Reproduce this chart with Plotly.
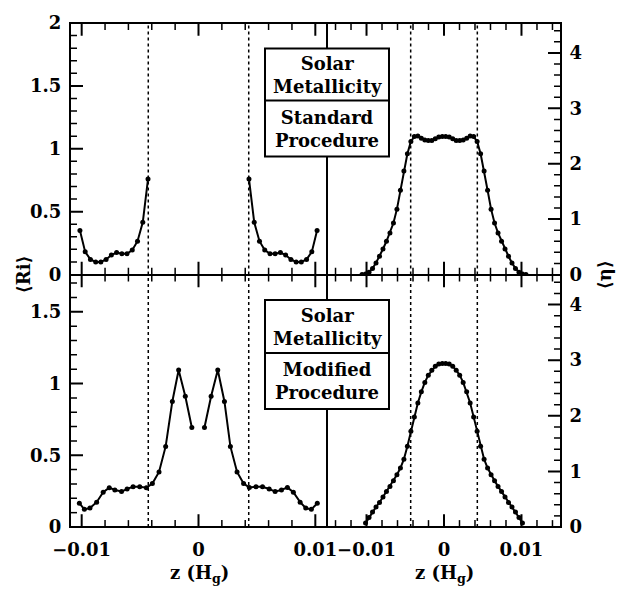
import plotly.graph_objects as go

# ---------------- data ----------------
z_ri_std_left = [-0.01015, -0.00970, -0.00925, -0.00880, -0.00836, -0.00791, -0.00746,
                 -0.00701, -0.00656, -0.00612, -0.00567, -0.00522, -0.00477, -0.00432]
ri_std_left = [0.35, 0.18, 0.12, 0.10, 0.10, 0.12, 0.155, 0.175, 0.165, 0.165, 0.195, 0.265, 0.415, 0.76]
z_ri_std_right = [0.00432, 0.00477, 0.00522, 0.00567, 0.00612, 0.00656, 0.00701,
                  0.00746, 0.00791, 0.00836, 0.00880, 0.00925, 0.00970, 0.01015]
ri_std_right = [0.76, 0.415, 0.265, 0.195, 0.165, 0.165, 0.175, 0.155, 0.12, 0.10, 0.10, 0.12, 0.18, 0.35]

z_ri_mod_left = [-0.0102, -0.00977, -0.00929, -0.00872, -0.00816, -0.00764, -0.00716, -0.00659,
                 -0.00611, -0.0056, -0.00503, -0.00446, -0.00395, -0.00338, -0.00281, -0.00224,
                 -0.0017, -0.00113, -0.00057]
ri_mod_left = [0.166, 0.123, 0.132, 0.173, 0.242, 0.274, 0.258, 0.247, 0.265, 0.281, 0.281,
               0.274, 0.303, 0.384, 0.562, 0.875, 1.094, 0.911, 0.694]
z_ri_mod_right = [0.00051, 0.00108, 0.00165, 0.00222, 0.00273, 0.0033, 0.00386, 0.00435, 0.00492,
                  0.00548, 0.00605, 0.00656, 0.0071, 0.00761, 0.00812, 0.0087, 0.00918, 0.00966,
                  0.01017]
ri_mod_right = [0.694, 0.911, 1.094, 0.875, 0.562, 0.384, 0.303, 0.276, 0.281, 0.281, 0.265,
                0.247, 0.258, 0.276, 0.242, 0.173, 0.132, 0.123, 0.166]

z_eta_std = [-0.010575, -0.010125, -0.009675, -0.009225, -0.008775, -0.008325, -0.007875, -0.007425,
             -0.006975, -0.006525, -0.006075, -0.005625, -0.005175, -0.004725, -0.004275, -0.003825,
             -0.003375, -0.002925, -0.002475, -0.002025, -0.001575, -0.001125, -0.000675, -0.000225,
             0.000225, 0.000675, 0.001125, 0.001575, 0.002025, 0.002475, 0.002925, 0.003375,
             0.003825, 0.004275, 0.004725, 0.005175, 0.005625, 0.006075, 0.006525, 0.006975,
             0.007425, 0.007875, 0.008325, 0.008775, 0.009225, 0.009675, 0.010125, 0.010575]
eta_std = [0.0, 0.01, 0.04, 0.11, 0.21, 0.33, 0.46, 0.60, 0.75, 0.93, 1.18, 1.52, 1.87, 2.18, 2.40,
           2.49, 2.50, 2.46, 2.43, 2.42, 2.42, 2.45, 2.48, 2.49,
           2.49, 2.48, 2.45, 2.42, 2.42, 2.43, 2.46, 2.50, 2.49,
           2.40, 2.18, 1.87, 1.52, 1.18, 0.93, 0.75, 0.60, 0.46, 0.33, 0.21, 0.11, 0.04, 0.01, 0.0]

z_eta_mod = [-0.010125, -0.009675, -0.009225, -0.008775, -0.008325, -0.007875, -0.007425,
             -0.006975, -0.006525, -0.006075, -0.005625, -0.005175, -0.004725, -0.004275, -0.003825,
             -0.003375, -0.002925, -0.002475, -0.002025, -0.001575, -0.001125, -0.000675, -0.000225,
             0.000225, 0.000675, 0.001125, 0.001575, 0.002025, 0.002475, 0.002925, 0.003375,
             0.003825, 0.004275, 0.004725, 0.005175, 0.005625, 0.006075, 0.006525, 0.006975,
             0.007425, 0.007875, 0.008325, 0.008775, 0.009225, 0.009675, 0.010125]
eta_mod = [0.07, 0.17, 0.27, 0.36, 0.44, 0.54, 0.64, 0.73, 0.83, 0.94, 1.06, 1.22, 1.45, 1.72,
           1.98, 2.23, 2.43, 2.60, 2.73, 2.82, 2.89, 2.93, 2.94,
           2.94, 2.93, 2.89, 2.82, 2.73, 2.60, 2.43, 2.23, 1.98,
           1.72, 1.45, 1.22, 1.06, 0.94, 0.83, 0.73, 0.64, 0.54, 0.44, 0.36, 0.27, 0.17, 0.07]

dead_zone = [-0.0043, 0.0043]
ri_top_range = [0, 2]
ri_bot_range = [0, 1.76]
eta_range = [0, 4.54]
x_left_range = [-0.011, 0.011]
x_right_range = [-0.0151, 0.0151]

x_tick_vals = [-0.01, 0, 0.01]
x_tick_text = ["−0.01", "0", "0.01"]
ri_top_tick_vals = [0, 0.5, 1, 1.5, 2]
ri_top_tick_text = ["0", "0.5", "1", "1.5", "2"]
ri_bot_tick_vals = [0, 0.5, 1, 1.5]
ri_bot_tick_text = ["0", "0.5", "1", "1.5"]
eta_tick_vals = [0, 1, 2, 3, 4]
eta_tick_text = ["0", "1", "2", "3", "4"]

# tick-mark spacing (major, minor)
x_steps = (0.01, 0.002)
ri_steps = (0.5, 0.1)
eta_steps = (1.0, 0.2)

top_box_text = ["Solar<br>Metallicity", "Standard<br>Procedure"]
bot_box_text = ["Solar<br>Metallicity", "Modified<br>Procedure"]

# ---------------- figure ----------------
FONT = "DejaVu Serif"
FS = 18
W, H = 623, 590
ML, MR, MT, MB = 70, 62, 14, 63
PW, PH = W - ML - MR, H - MT - MB
xsplit = (327 - ML) / PW
ysplit = (527 - 270) / PH
MAJ_LEN, MIN_LEN = 13, 7


def px2x(px):
    return (px - ML) / PW


def py2y(py):
    return (H - MB - py) / PH


def bold(lst):
    return ["<b>" + s + "</b>" for s in lst]


def tick_positions(rng, steps):
    major, minor = steps
    out = []
    k = int(rng[0] / minor) - 1
    while k * minor < rng[1]:
        v = k * minor
        if rng[0] + 1e-9 < v < rng[1] - 1e-9:
            q = v / major
            out.append((v, abs(q - round(q)) < 1e-6))
        k += 1
    return out


fig = go.Figure()
line_style = dict(color="black", width=2)
marker_style = dict(color="black", size=5)

top = [ysplit, 1]
bot = [0, ysplit]
lft = [0, xsplit]
rgt = [xsplit, 1]

# inward tick marks as line traces on each panel's own axes
panels = [("x", "y", x_left_range, ri_top_range, ri_steps, "left", lft, top),
          ("x2", "y2", x_right_range, eta_range, eta_steps, "right", rgt, top),
          ("x3", "y3", x_left_range, ri_bot_range, ri_steps, "left", lft, bot),
          ("x4", "y4", x_right_range, eta_range, eta_steps, "right", rgt, bot)]
for xa, ya, xr, yr, ysteps, yside, xdom, ydom in panels:
    pw = PW * (xdom[1] - xdom[0])
    ph = PH * (ydom[1] - ydom[0])
    ypp = (yr[1] - yr[0]) / ph      # data units per pixel (y)
    xpp = (xr[1] - xr[0]) / pw      # data units per pixel (x)
    for want_major in (True, False):
        L = MAJ_LEN if want_major else MIN_LEN
        tx, ty = [], []
        for v, is_major in tick_positions(xr, x_steps):
            if is_major != want_major:
                continue
            tx += [v, v, None, v, v, None]
            ty += [yr[0], yr[0] + L * ypp, None, yr[1], yr[1] - L * ypp, None]
        for v, is_major in tick_positions(yr, ysteps):
            if is_major != want_major:
                continue
            if yside == "left":
                tx += [xr[0], xr[0] + L * xpp, None]
            else:
                tx += [xr[1], xr[1] - L * xpp, None]
            ty += [v, v, None]
        fig.add_trace(go.Scatter(x=tx, y=ty, mode="lines",
                                 line=dict(color="black", width=2 if want_major else 1.5),
                                 xaxis=xa, yaxis=ya, showlegend=False, hoverinfo="skip",
                                 cliponaxis=False))


def add_curve(x, y, xa, ya):
    fig.add_trace(go.Scatter(x=x, y=y, mode="lines+markers", line=line_style,
                             marker=marker_style, xaxis=xa, yaxis=ya, showlegend=False,
                             hoverinfo="skip"))


add_curve(z_ri_std_left, ri_std_left, "x", "y")
add_curve(z_ri_std_right, ri_std_right, "x", "y")
add_curve(z_eta_std, eta_std, "x2", "y2")
add_curve(z_ri_mod_left, ri_mod_left, "x3", "y3")
add_curve(z_ri_mod_right, ri_mod_right, "x3", "y3")
add_curve(z_eta_mod, eta_mod, "x4", "y4")

tickfont = dict(family=FONT, size=FS, color="black")


def xax(domain, rng, anchor, labels):
    return dict(domain=domain, range=rng, anchor=anchor, showgrid=False, zeroline=False,
                showline=True, linewidth=1, linecolor="black", mirror=True, ticks="",
                tickmode="array", tickvals=x_tick_vals, ticktext=bold(x_tick_text),
                showticklabels=labels, tickfont=tickfont, ticklabelstandoff=6)


def yax(domain, rng, anchor, side, vals, text):
    return dict(domain=domain, range=rng, anchor=anchor, side=side, showgrid=False,
                zeroline=False, showline=True, linewidth=1, linecolor="black", mirror=True,
                ticks="", tickmode="array", tickvals=vals, ticktext=bold(text),
                tickfont=tickfont, ticklabelstandoff=4)


fig.update_layout(
    template="simple_white",
    width=W, height=H, margin=dict(l=ML, r=MR, t=MT, b=MB),
    paper_bgcolor="white", plot_bgcolor="rgba(0,0,0,0)", showlegend=False,
    xaxis=xax(lft, x_left_range, "y", False),
    yaxis=yax(top, ri_top_range, "x", "left", ri_top_tick_vals, ri_top_tick_text),
    xaxis2=xax(rgt, x_right_range, "y2", False),
    yaxis2=yax(top, eta_range, "x2", "right", eta_tick_vals, eta_tick_text),
    xaxis3=xax(lft, x_left_range, "y3", True),
    yaxis3=yax(bot, ri_bot_range, "x3", "left", ri_bot_tick_vals, ri_bot_tick_text),
    xaxis4=xax(rgt, x_right_range, "y4", True),
    yaxis4=yax(bot, eta_range, "x4", "right", eta_tick_vals, eta_tick_text),
)

for xa, ya in [("x", "y"), ("x2", "y2"), ("x3", "y3"), ("x4", "y4")]:
    for zb in dead_zone:
        fig.add_shape(type="line", xref=xa, yref=ya + " domain", x0=zb, x1=zb, y0=0, y1=1,
                      line=dict(color="black", width=1.5, dash="dot"), opacity=1,
                      layer="below")

fig.add_shape(type="rect", xref="paper", yref="paper", x0=0, x1=1, y0=0, y1=1,
              line=dict(color="black", width=2), fillcolor="rgba(0,0,0,0)", opacity=1,
              layer="above")


def add_box(py_top, py_mid, py_bot, texts):
    x0, x1 = px2x(265), px2x(389)
    fig.add_shape(type="rect", xref="paper", yref="paper", x0=x0, x1=x1,
                  y0=py2y(py_bot), y1=py2y(py_top), fillcolor="white", opacity=1,
                  line=dict(color="black", width=2), layer="above")
    fig.add_shape(type="line", xref="paper", yref="paper", x0=x0, x1=x1,
                  y0=py2y(py_mid), y1=py2y(py_mid), line=dict(color="black", width=2),
                  opacity=1, layer="above")
    for t, (a, b) in zip(texts, [(py_top, py_mid), (py_mid, py_bot)]):
        fig.add_annotation(xref="paper", yref="paper", x=(x0 + x1) / 2, y=py2y((a + b) / 2),
                           text="<b>" + t + "</b>", showarrow=False,
                           font=dict(family=FONT, size=FS, color="black"),
                           xanchor="center", yanchor="middle")


add_box(40, 93, 150, top_box_text)
add_box(296, 350, 407, bot_box_text)

lab_font = dict(family=FONT, size=FS, color="black")
for cx in [199, 444]:
    fig.add_annotation(xref="paper", yref="paper", x=px2x(cx), y=py2y(575),
                       text="<b>z (H<sub>g</sub>)</b>", showarrow=False, font=lab_font,
                       xanchor="center", yanchor="middle")
fig.add_annotation(xref="paper", yref="paper", x=px2x(24), y=py2y(270),
                   text="<b>⟨Ri⟩</b>", showarrow=False, font=lab_font, textangle=-90,
                   xanchor="center", yanchor="middle")
fig.add_annotation(xref="paper", yref="paper", x=px2x(605), y=py2y(270),
                   text="<b>⟨η⟩</b>", showarrow=False, font=lab_font, textangle=-90,
                   xanchor="center", yanchor="middle")

fig.write_html("out.html")
